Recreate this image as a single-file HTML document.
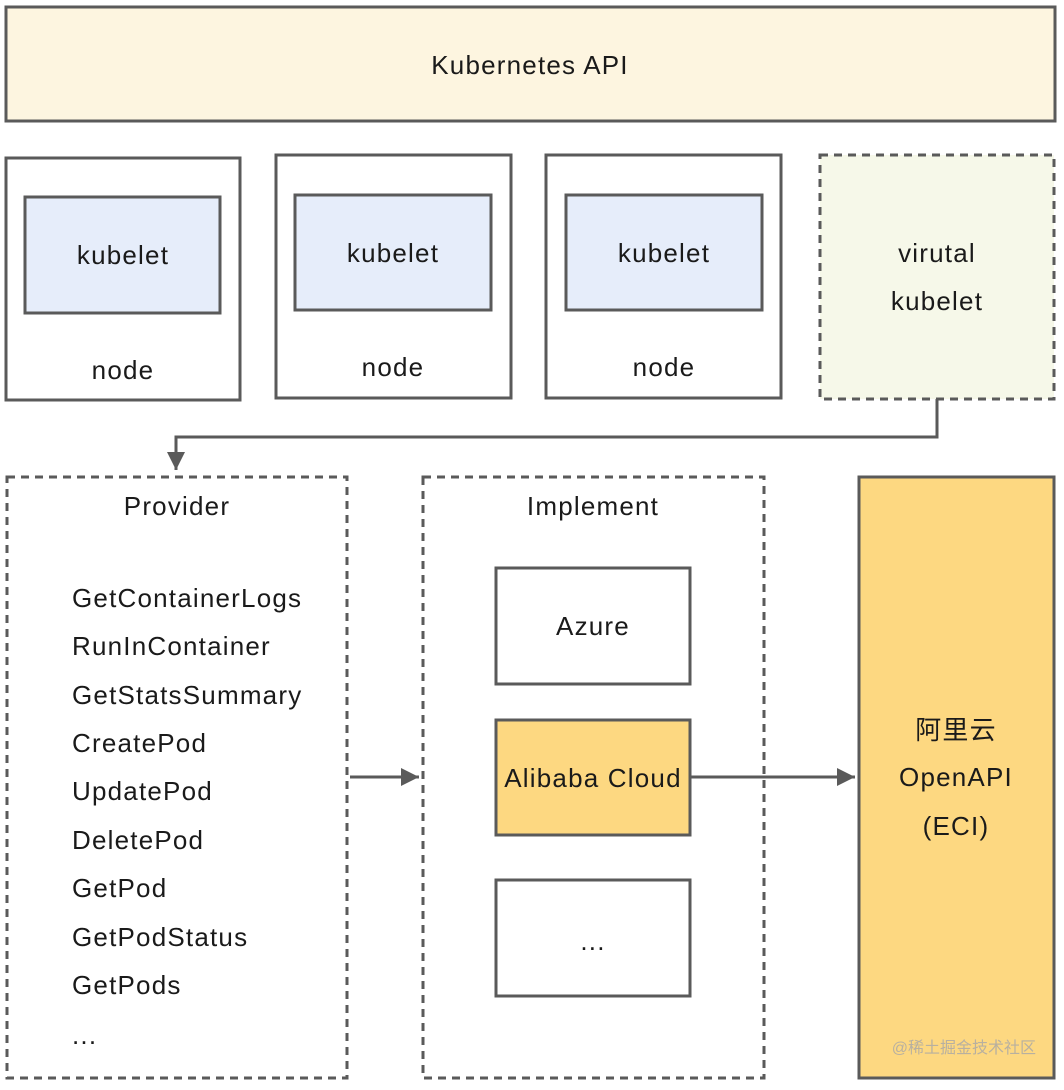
<!DOCTYPE html>
<html><head><meta charset="utf-8"><style>
html,body{margin:0;padding:0;background:#fff;}
svg text{font-family:"Liberation Sans","Noto Sans CJK SC",sans-serif;fill:#1a1a1a;letter-spacing:1.2px;}
</style></head><body>
<svg width="1064" height="1085" viewBox="0 0 1064 1085" xmlns="http://www.w3.org/2000/svg">
<defs>
<marker id="b" viewBox="0 0 10 10" markerWidth="18" markerHeight="18" refX="10" refY="5" orient="auto" markerUnits="userSpaceOnUse"><path d="M0,0 L10,5 L0,10 Z" fill="#5a5a5a"/></marker></defs>
<g stroke="#5a5a5a" stroke-width="3">
<rect x="6" y="7" width="1049" height="114" fill="#fdf5e0"/>
<rect x="6" y="158" width="234" height="242" fill="#fff"/>
<rect x="25" y="197" width="195" height="116" fill="#e6edfa"/>
<rect x="276" y="155" width="235" height="243" fill="#fff"/>
<rect x="295" y="195" width="196" height="115" fill="#e6edfa"/>
<rect x="546" y="155" width="235" height="243" fill="#fff"/>
<rect x="566" y="195" width="196" height="115" fill="#e6edfa"/>
<rect x="820" y="155" width="234" height="244" fill="#f6f8e9" stroke-dasharray="8,6"/>
<polyline points="937,399 937,437 176,437 176,470" fill="none" marker-end="url(#b)"/>
<rect x="7" y="477" width="340" height="601" fill="#fff" stroke-dasharray="8,6"/>
<rect x="423" y="477" width="341" height="601" fill="#fff" stroke-dasharray="8,6"/>
<rect x="496" y="568" width="194" height="116" fill="#fff"/>
<rect x="496" y="720" width="194" height="115" fill="#fdd881"/>
<rect x="496" y="880" width="194" height="116" fill="#fff"/>
<line x1="350" y1="777" x2="419" y2="777" marker-end="url(#b)"/>
<line x1="690" y1="777" x2="855" y2="777" marker-end="url(#b)"/>
<rect x="859" y="477" width="195" height="601" fill="#fdd881"/>
</g>
<g font-size="26" text-anchor="middle">
<text x="530" y="74">Kubernetes API</text>
<text x="123" y="264">kubelet</text>
<text x="123" y="379">node</text>
<text x="393" y="262">kubelet</text>
<text x="393" y="376">node</text>
<text x="664" y="262">kubelet</text>
<text x="664" y="376">node</text>
<text x="937" y="262">virutal</text>
<text x="937" y="310">kubelet</text>
<text x="177" y="515">Provider</text>
<text x="593" y="515">Implement</text>
<text x="593" y="635">Azure</text>
<text x="593" y="787">Alibaba Cloud</text>
<text x="593" y="950">...</text>
<text x="956" y="739">阿里云</text>
<text x="956" y="786">OpenAPI</text>
<text x="956" y="835">(ECI)</text>
</g>
<g font-size="26">
<text x="72" y="607">GetContainerLogs</text>
<text x="72" y="655">RunInContainer</text>
<text x="72" y="704">GetStatsSummary</text>
<text x="72" y="752">CreatePod</text>
<text x="72" y="800">UpdatePod</text>
<text x="72" y="849">DeletePod</text>
<text x="72" y="897">GetPod</text>
<text x="72" y="946">GetPodStatus</text>
<text x="72" y="994">GetPods</text>
<text x="72" y="1044">...</text>
</g>
<text x="1036" y="1053" font-size="16" text-anchor="end" style="fill:#b8b0a0;letter-spacing:0">@稀土掘金技术社区</text>
</svg>
</body></html>
